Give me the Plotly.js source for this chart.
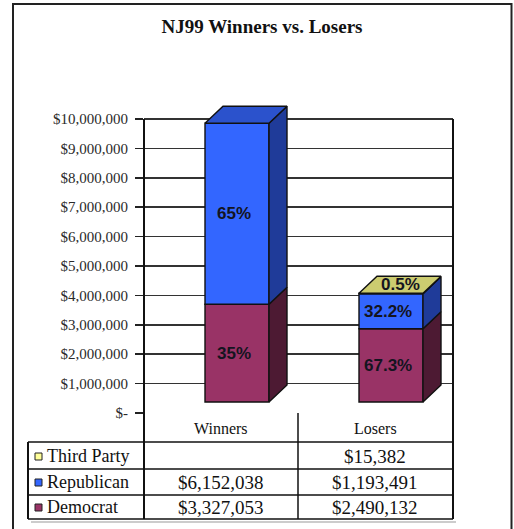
<!DOCTYPE html>
<html><head><meta charset="utf-8">
<script src="https://cdn.plot.ly/plotly-3.0.1.min.js"></script>
<style>html,body{margin:0;padding:0;background:#fff;}#chart{width:514px;height:529px;}</style>
</head><body><div id="chart"></div>
<script>
// ---- data ----
const categories = ['Winners', 'Losers'];
const seriesNames = ['Democrat', 'Republican', 'Third Party'];
const democrat = [3327053, 2490132];
const republican = [6152038, 1193491];
const thirdParty = [null, 15382];
const democratPct = ['35%', '67.3%'];
const republicanPct = ['65%', '32.2%'];
const thirdPartyPct = ['', '0.5%'];
const tickVals = [0, 1000000, 2000000, 3000000, 4000000, 5000000, 6000000, 7000000, 8000000, 9000000, 10000000];
const tickText = ['$-', '$1,000,000', '$2,000,000', '$3,000,000', '$4,000,000', '$5,000,000', '$6,000,000', '$7,000,000', '$8,000,000', '$9,000,000', '$10,000,000'];
const chartTitle = 'NJ99 Winners vs. Losers';

// ---- styling / geometry ----
const W = 514, H = 529;
const M = {l: 144, r: 61, t: 100, b: 115};
const plotW = W - M.l - M.r, plotH = H - M.t - M.b;
const colPx = 154;               // pixels per category column
const pxPerVal = 29.4 / 1e6;     // pixels per dollar
const zeroPx = 413;              // pixel row of $0 on back wall
const xRange = [0, plotW / colPx];
const yRange = [-(M.t + plotH - zeroPx) / pxPerVal, (zeroPx - M.t) / pxPerVal];
const barOffset = 16 / colPx, barWidth = 64 / colPx;
const depthX = 18 / colPx, depthY = 17 / pxPerVal, lift = 11 / pxPerVal;

const frontColors = {'Democrat': '#993366', 'Republican': '#3366ff', 'Third Party': '#ffff99'};
const sideColors  = {'Democrat': '#4d1a33', 'Republican': '#1f3b99', 'Third Party': '#99994d'};
const topColors   = {'Democrat': '#7a2952', 'Republican': '#2b52cc', 'Third Party': '#cccc70'};
const outline = '#111';

const seriesData = {'Democrat': democrat, 'Republican': republican, 'Third Party': thirdParty};
const seriesPct = {'Democrat': democratPct, 'Republican': republicanPct, 'Third Party': thirdPartyPct};

const X = px => (px - M.l) / plotW;
const Y = py => (M.t + plotH - py) / plotH;

const traces = [];
const annotations = [];
const cum = categories.map(() => 0);
const centers = categories.map((c, i) => i + 0.5 + barOffset);
const topSeries = categories.map((c, i) => {
  let last = null;
  seriesNames.forEach(s => { if (seriesData[s][i] != null) last = s; });
  return last;
});

seriesNames.forEach(s => {
  const vals = seriesData[s];
  const bases = vals.map((v, i) => lift + cum[i]);
  traces.push({
    type: 'bar', x: centers, y: vals, base: bases, width: barWidth,
    marker: {color: frontColors[s], line: {color: outline, width: 1.4}},
    hoverinfo: 'skip', showlegend: false
  });
  const sx = [], sy = [], tx = [], ty = [];
  vals.forEach((v, i) => {
    if (v == null) return;
    const b0 = bases[i], b1 = bases[i] + v;
    const xl = centers[i] - barWidth / 2, xr = centers[i] + barWidth / 2;
    sx.push(xr, xr + depthX, xr + depthX, xr, xr, null);
    sy.push(b0, b0 + depthY, b1 + depthY, b1, b0, null);
    if (topSeries[i] === s) {
      tx.push(xl, xl + depthX, xr + depthX, xr, xl, null);
      ty.push(b1, b1 + depthY, b1 + depthY, b1, b1, null);
    }
    const lbl = seriesPct[s][i];
    if (lbl) {
      const onTop = v < 200000;
      annotations.push({
        xref: 'x', yref: 'y',
        x: onTop ? centers[i] + depthX / 2 : centers[i] - 0.02,
        y: onTop ? b1 + depthY / 2 : (b0 + b1) / 2,
        text: lbl, showarrow: false,
        font: {family: 'Liberation Sans, Arial, sans-serif', size: 17, color: '#141420', weight: 'bold'}
      });
    }
  });
  traces.push({type: 'scatter', mode: 'lines', x: sx, y: sy, fill: 'toself', fillcolor: sideColors[s],
    line: {color: outline, width: 1.4}, hoverinfo: 'skip', showlegend: false});
  if (tx.length) traces.push({type: 'scatter', mode: 'lines', x: tx, y: ty, fill: 'toself', fillcolor: topColors[s],
    line: {color: outline, width: 1.4}, hoverinfo: 'skip', showlegend: false});
  vals.forEach((v, i) => { if (v != null) cum[i] += v; });
});

// ---- data table ----
const serif = 'Liberation Serif, Times New Roman, serif';
const tableFont = {family: serif, size: 19, color: '#111'};
const colCenters = [221, 375];
const headerY = 428;
const rowOrder = ['Third Party', 'Republican', 'Democrat'];
const rowY = [456, 482, 507];
const fmt = v => v == null ? '' : '$' + v.toLocaleString('en-US');
categories.forEach((c, i) => annotations.push({xref: 'paper', yref: 'paper', x: X(colCenters[i]), y: Y(headerY),
  text: c, showarrow: false, font: {family: serif, size: 16, color: '#111'}, xanchor: 'center', yanchor: 'middle'}));
const shapes = [];
rowOrder.forEach((s, r) => {
  annotations.push({xref: 'paper', yref: 'paper', x: X(45), y: Y(rowY[r]), text: s, showarrow: false,
    font: {family: serif, size: 18, color: '#111'}, xanchor: 'left', yanchor: 'middle'});
  seriesData[s].forEach((v, i) => annotations.push({xref: 'paper', yref: 'paper', x: X(colCenters[i]), y: Y(rowY[r]),
    text: fmt(v), showarrow: false, font: tableFont, xanchor: 'center', yanchor: 'middle'}));
  shapes.push({type: 'rect', xref: 'paper', yref: 'paper', x0: X(35), x1: X(42), y0: Y(rowY[r] - 3), y1: Y(rowY[r] + 4),
    fillcolor: frontColors[s], line: {color: '#222', width: 1}});
});
const L = (x0, y0, x1, y1, w, c) => shapes.push({type: 'line', xref: 'paper', yref: 'paper',
  x0: X(x0), y0: Y(y0), x1: X(x1), y1: Y(y1), line: {color: c || '#111', width: w || 1.5}});
L(144, 119, 144, 519, 2);
L(453, 119, 453, 519, 2);
L(298, 413, 298, 519, 1.5);
L(28, 442, 28, 519, 2);
[442, 469, 495, 519].forEach(y => L(28, y, 453, y, 1.5));
L(31, 522, 456, 522, 1.5, '#bbb');
shapes.push({type: 'rect', xref: 'paper', yref: 'paper', x0: X(13), x1: X(511.5), y0: Y(4), y1: Y(545),
  line: {color: '#222', width: 2}, fillcolor: 'rgba(0,0,0,0)', layer: 'below'});

const layout = {
  width: W, height: H, margin: M, paper_bgcolor: '#fff', plot_bgcolor: '#fff',
  barmode: 'overlay', showlegend: false,
  title: {text: chartTitle, xref: 'container', yref: 'container', x: 262 / W, y: 1 - 26 / H,
    xanchor: 'center', yanchor: 'middle',
    font: {family: serif, size: 19, color: '#111', weight: 'bold'}},
  xaxis: {range: xRange, showgrid: false, zeroline: false, showline: false, showticklabels: false, ticks: '', fixedrange: true},
  yaxis: {range: yRange, tickvals: tickVals, ticktext: tickText, ticks: 'outside', ticklen: 8, tickwidth: 1.5,
    tickcolor: '#222', ticklabelstandoff: 4, showgrid: true, gridcolor: '#333', gridwidth: 1.6, zeroline: false, showline: false,
    tickfont: {family: serif, size: 15, color: '#2a2a2a'}, fixedrange: true},
  shapes: shapes, annotations: annotations
};
Plotly.newPlot('chart', traces, layout, {displayModeBar: false, staticPlot: true});
</script></body></html>
